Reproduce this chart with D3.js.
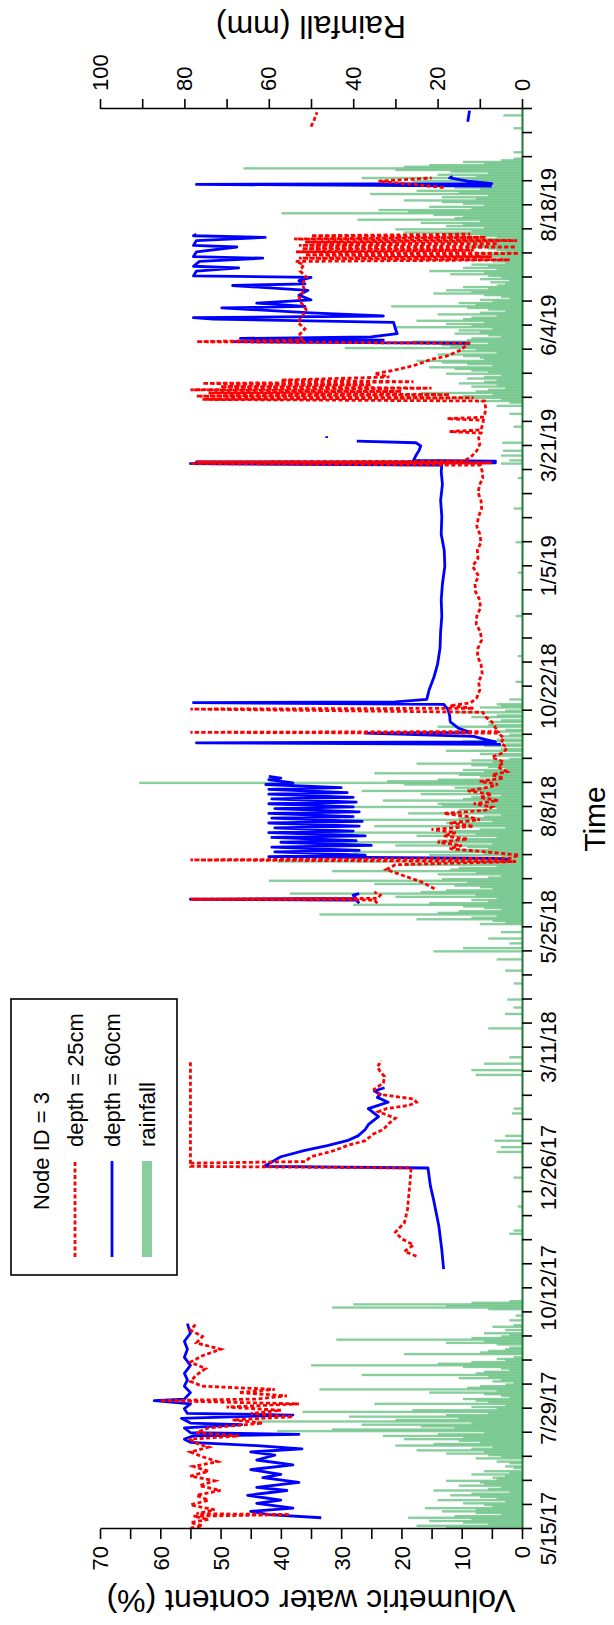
<!DOCTYPE html>
<html><head><meta charset="utf-8">
<script src="https://cdn.jsdelivr.net/npm/d3@7"></script>
<style>html,body{margin:0;padding:0;background:#fff;} svg{display:block;} text{font-family:"Liberation Sans",Arial,sans-serif;fill:#000;}</style>
</head><body><svg id="c" width="614" height="1625"></svg>
<script>
// ---------- data ----------
const dateTickLabels = ["5/15/17","7/29/17","10/12/17","12/26/17","3/11/18","5/25/18","8/8/18","10/22/18","1/5/19","3/21/19","6/4/19","8/18/19"];
const timeDomain = ["5/15/17","10/17/19"];
const vwcTicks = [0,5,10,15,20,25,30,35,40,45,50,55,60,65,70];
const vwcLabels = [0,10,20,30,40,50,60,70];
const rainTicks = [0,10,20,30,40,50,60,70,80,90,100];
const rainLabels = [0,20,40,60,80,100];
const legendLabels = ["Node ID = 3","depth = 25cm","depth = 60cm","rainfall"];

// depth = 25cm (red), null = gap
const depth25 = [
["5/15/17 12",55],["5/17/17",53],["5/19/17",55],["5/21/17",52],["5/23/17",54.5],["5/24/17",38.5],["5/24/17 12",54],["5/27/17",51],["5/30/17",55],["6/2/17",52],["6/5/17",54],["6/8/17",50],["6/11/17",53.5],["6/14/17",51],["6/17/17",55],["6/20/17",52],["6/23/17",54.5],["6/26/17",50.5],["6/29/17",53],["7/2/17",55],["7/5/17",52],["7/8/17",54.5],["7/10/17",55],["7/12/17",47],["7/14/17",54],["7/17/17",52],["7/20/17",43],["7/22/17",48],["7/24/17",38],["7/26/17",45],["7/28/17",40],["7/30/17",49],["8/1/17",37],["8/3/17",60],["8/4/17",44],["8/6/17",39],["8/8/17",47],["8/10/17",41],["8/12/17",53],["8/15/17",55],["8/19/17",54],["8/23/17",52.5],["8/27/17",55],["8/31/17",53],["9/4/17",50],["9/8/17",54],["9/12/17",53],["9/16/17",55],["9/20/17",54],
null,
["11/1/17",17.5],["11/4/17",19.5],["11/8/17",18],["11/12/17",20],["11/16/17",21],["11/22/17",19.5],["11/30/17",19],["12/8/17",18.8],["12/16/17",18.6],["12/26/17",18.4],["12/27/17",55],["3/2/18",55],
null,
["12/29/17",55],["12/30/17",36],["1/2/18",35],["1/6/18",31],["1/9/18",29],["1/12/18",26],["1/16/18",24.7],["1/19/18",23],["1/23/18",22],["1/26/18",21],["1/30/18",23.8],["2/1/18",22.5],["2/3/18",18.8],["2/5/18",17.5],["2/7/18",18],["2/10/18",23.8],["2/13/18",24.5],["2/17/18",23],["2/21/18",22.8],["2/24/18",23.5],["2/27/18",24],["3/3/18",23.3],
null,
["6/9/18",24],["6/11/18",24.5],["6/11/18 12",55],["6/12/18",24],["6/14/18",23.5],["6/16/18",24.5],
null,
["6/18/18",14.5],["6/22/18",16.5],["6/26/18",19.5],["6/30/18",22.5],["7/3/18",21],["7/5/18",1],["7/6/18",55],["7/7/18",2],["7/9/18",0.5],["7/11/18",6],["7/13/18",12],["7/15/18",10],["7/17/18",14],["7/19/18",9],["7/21/18",13],["7/23/18",11],["7/25/18",15],["7/27/18",8],["7/29/18",12],["7/31/18",7],["8/2/18",9],["8/4/18",13],["8/6/18",6],["8/8/18",5],["8/10/18",8],["8/12/18",4],["8/14/18",7],["8/16/18",5],["8/18/18",9],["8/20/18",6],["8/22/18",4],["8/24/18",7],["8/26/18",3],["8/28/18",5],["8/30/18",2.5],["9/2/18",4],["9/5/18",3],["9/8/18",5],["9/11/18",3],["9/14/18",2.5],["9/17/18",3.5],["9/20/18",3],["9/23/18",4],["9/23/18 12",55],["9/24/18",4],["9/27/18",4.5],["9/30/18",5],["10/3/18",6],["10/6/18",6.5],["10/8/18",55],["10/8/18 12",8],["10/10/18",12],["10/12/18",8.5],["10/15/18",7.5],["10/20/18",7],["10/25/18",7.2],["10/30/18",6.6],["11/5/18",6.8],["11/10/18",7.4],["11/15/18",7.3],["11/20/18",6.7],["11/25/18",6.9],["11/30/18",7.6],["12/5/18",7.5],["12/10/18",6.9],["12/15/18",7],["12/20/18",7.7],["12/25/18",7.8],["12/30/18",7.2],["1/5/19",8.2],["1/10/19",7.3],["1/15/19",7.4],["1/20/19",6.8],["1/25/19",7],["1/30/19",7.5],["2/5/19",7.2],["2/10/19",6.7],["2/15/19",6.8],["2/20/19",7.3],["2/25/19",7],["3/1/19",6.5],["3/5/19",6.6],["3/9/19",6.9],
["3/10/19",55],["3/10/19 12",5],["3/11/19",54],["3/11/19 12",9.7],["3/14/19",8.5],["3/18/19",7.5],["3/22/19",7],["3/26/19",7.2],["3/29/19",6.8],["3/30/19",12],["3/31/19",6.8],["4/4/19",6.5],["4/6/19",6.4],["4/7/19",12.4],["4/8/19",6.3],["4/13/19",6],["4/18/19",6.2],["4/19/19",53],["4/20/19",8],["4/21/19",54],["4/22/19",12],["4/23/19",52],["4/24/19",20],["4/25/19",55],["4/26/19",15],["4/27/19",50],["4/28/19",25],["4/29/19",53],["4/30/19",18],["5/1/19",40],["5/3/19",22],["5/5/19",24.5],["5/7/19",21.5],["5/10/19",18],["5/14/19",15],["5/16/19",12.5],["5/20/19",10],["5/24/19",9],["5/25/19",54],["5/26/19",36.5],["5/29/19",37],["6/2/19",36],["6/6/19",37.2],["6/10/19",36.4],["6/14/19",35.8],["6/18/19",36.6],["6/22/19",37],["6/26/19",36],["6/30/19",36.5],["7/4/19",35.7],["7/8/19",36.8],["7/12/19",36.2],["7/14/19",37.5],["7/15/19",2],["7/16/19",37],["7/17/19",5],["7/18/19",36],["7/19/19",0.5],["7/20/19",37.5],["7/21/19",8],["7/22/19",36.5],["7/23/19",1],["7/24/19",37],["7/25/19",4],["7/26/19",36],["7/27/19",0.8],["7/28/19",37.8],["7/29/19",6],["7/30/19",35],["7/31/19",8.6],
null,
["8/29/19",13],["8/31/19",18],["9/2/19",23.8],["9/4/19",15],
null,
["10/6/19",35],["10/10/19",34.5],["10/15/19",34]
];

// depth = 60cm (blue)
const depth60 = [
["5/22/17",33.3],["5/24/17",42],["5/26/17",45],["5/28/17",38],["5/31/17",44],["6/2/17",40],["6/5/17",45.5],["6/8/17",39],["6/10/17",44],["6/13/17",37],["6/16/17",43],["6/18/17",40],["6/21/17",45],["6/24/17",38],["6/27/17",44],["6/30/17",41],["7/2/17",45],["7/4/17",36.5],["7/6/17",44],["7/8/17",55],["7/10/17",56],["7/12/17",54.5],["7/13/17",37],["7/14/17",55],["7/17/17",56],["7/19/17",46.5],["7/20/17",55],["7/23/17",56.5],["7/25/17",38],["7/26/17",55.5],["7/29/17",56],["8/1/17",55],["8/3/17",61],["8/4/17",56],["8/8/17",55],["8/12/17",56],["8/16/17",55.5],["8/20/17",56],["8/25/17",55],["8/30/17",56],["9/4/17",55.5],["9/9/17",56],["9/14/17",55],["9/20/17",55.5],
null,
["10/24/17",13],["11/5/17",13.3],["11/20/17",13.8],["12/5/17",14.6],["12/15/17",15.2],["12/26/17",15.6],["12/27/17",42.8],["1/2/18",40],["1/6/18",36],["1/9/18",32.3],["1/12/18",29],["1/15/18",27.2],["1/19/18",26],["1/22/18",25.5],["1/25/18",24.5],["1/27/18",23.8],["2/1/18",25.5],["2/5/18",22.2],["2/8/18",24],["2/10/18",23.5],["2/12/18",24.5],["2/14/18",22.8],
null,
["6/9/18",27],["6/11/18",27.5],["6/11/18 12",55],["6/12/18",27.5],["6/14/18",28],["6/15/18",27],
null,
["7/6/18",2],["7/7/18",4],["7/8/18",42],["7/9/18",26],["7/11/18",41],["7/12/18",27],["7/14/18",41.5],["7/15/18",25],["7/17/18",40],["7/18/18",27.5],["7/20/18",41.5],["7/21/18",26],["7/23/18",42],["7/24/18",28],["7/26/18",41],["7/27/18",27],["7/29/18",42],["7/30/18",26.5],["8/1/18",41.5],["8/2/18",28],["8/4/18",42],["8/5/18",27],["8/7/18",41],["8/8/18",28],["8/10/18",42],["8/11/18",27.5],["8/13/18",41.5],["8/14/18",28],["8/16/18",42],["8/17/18",29],["8/19/18",42],["8/20/18",30],["8/22/18",42.5],["8/23/18",38],["8/25/18",42],["8/26/18",40],["8/27/18",42],
null,
["9/16/18",3.5],["9/17/18",54],["9/17/18 12",4.4],["9/19/18",6],["9/21/18",8],["9/23/18",26],["9/23/18 12",8.6],["9/26/18",10.5],["9/30/18",11.9],["10/4/18",12],["10/8/18",12.3],["10/11/18",13],["10/12/18",54.5],["10/12/18 12",21],["10/14/18",15.8],["10/20/18",15.4],["10/28/18",14.6],["11/5/18",14],["11/15/18",13.6],["11/25/18",13.5],["12/5/18",13.3],["12/15/18",13.4],["12/25/18",13.2],["1/5/19",12.8],["1/15/19",12.9],["1/25/19",13.4],["2/5/19",13.3],["2/15/19",13.5],["2/25/19",13.2],["3/5/19",13.4],["3/9/19",13.3],
["3/10/19",55],["3/10/19 12",4.4],["3/11/19",54],["3/11/19 12",4.4],["3/12/19",18],["3/15/19",17.6],["3/18/19",17.1],["3/21/19",16.8],["3/23/19",17.6],["3/24/19",27.4],
null,
["3/26/19",32.4],["3/27/19",32.4],
null,
["5/24/19",8.6],["5/25/19",48],["5/26/19",23],["5/27/19",46.7],["5/28/19",25],["5/30/19",20.7],["6/2/19",21],["6/6/19",21.3],["6/8/19",51.2],["6/9/19",54.5],["6/10/19",23],["6/12/19",35],["6/15/19",49.8],["6/16/19",36],["6/18/19",44],["6/20/19",35],["6/23/19",37],["6/26/19",35.5],["6/29/19",48],["6/30/19",36],["7/2/19",37],["7/4/19",35],["7/5/19",54.5],["7/8/19",54],["7/10/19",47],["7/11/19",54.5],["7/14/19",53.5],["7/16/19",43],["7/17/19",54.5],["7/20/19",54],["7/23/19",47.3],["7/24/19",54.5],["7/27/19",54],["7/29/19",42.6],["7/30/19",54.5],["7/31/19",54],
null,
["8/30/19",5],["8/31/19",54],["8/31/19 12",5],["9/2/19",9],["9/4/19",12],["9/5/19",11.5],
null,
["10/9/19",9],["10/16/19",8.7]
];

// daily rainfall (mm)
const rainfall = [
["5/15/17",10],["5/16/17",18],["5/17/17",25],["5/18/17",8],["5/19/17",14],["5/20/17",22],["5/21/17",12],["5/22/17",27],["5/23/17",16],["5/24/17",5],["5/25/17",11],["5/26/17",19],["5/27/17",11],["5/28/17",23],["5/29/17",7],["5/30/17",9],["5/31/17",14],["6/1/17",4],["6/2/17",20],["6/3/17",6],["6/4/17",10],["6/5/17",17],["6/6/17",12],["6/7/17",3],["6/8/17",21],["6/9/17",8],["6/10/17",5],["6/11/17",15],["6/12/17",9],["6/13/17",10],["6/14/17",18],["6/15/17",6],["6/16/17",7],["6/17/17",4],["6/18/17",12],["6/19/17",3],["6/20/17",9],["6/22/17",2],["6/23/17",4],["6/25/17",3],["6/26/17",6],["6/28/17",11],["6/29/17",5],["6/30/17",8],
["7/1/17",18],["7/2/17",9],["7/3/17",25],["7/4/17",12],["7/5/17",7],["7/6/17",30],["7/7/17",21],["7/8/17",10],["7/9/17",15],["7/10/17",28],["7/11/17",14],["7/12/17",33],["7/13/17",20],["7/14/17",9],["7/15/17",58],["7/16/17",45],["7/17/17",16],["7/18/17",24],["7/19/17",38],["7/20/17",12],["7/21/17",63],["7/22/17",30],["7/23/17",15],["7/24/17",41],["7/25/17",18],["7/26/17",8],["7/27/17",52],["7/28/17",26],["7/29/17",6],["7/30/17",12],["7/31/17",4],["8/1/17",35],["8/2/17",8],["8/3/17",11],["8/4/17",14],["8/5/17",3],["8/6/17",5],["8/7/17",9],["8/8/17",22],["8/9/17",6],["8/10/17",48],["8/11/17",13],["8/12/17",10],["8/13/17",4],["8/14/17",2],["8/15/17",7],["8/16/17",5],["8/17/17",15],["8/18/17",8],["8/19/17",38],["8/20/17",11],["8/21/17",9],["8/22/17",3],["8/23/17",5],["8/24/17",14],["8/25/17",50],["8/26/17",20],["8/27/17",12],["8/28/17",4],["8/29/17",6],["8/30/17",2],["9/1/17",28],["9/2/17",10],["9/3/17",8],["9/4/17",4],["9/5/17",3],["9/7/17",6],["9/8/17",18],["9/9/17",9],["9/10/17",44],["9/11/17",12],["9/12/17",5],["9/13/17",3],["9/14/17",9],["9/16/17",4],["9/18/17",7],["9/19/17",2],["9/22/17",3],["9/25/17",1.5],["9/29/17",8],["9/30/17",45],["10/1/17",18],["10/2/17",40],["10/3/17",12],["10/4/17",3],
["11/15/17",3],["11/17/17",2],["12/2/17",1],["12/20/17",2],["1/5/18",6],["1/8/18",5],["1/12/18",6.5],["1/15/18",4],["1/29/18",2.4],["2/1/18",2],["2/22/18",11],["2/25/18",12],["3/1/18",9],["3/5/18",3],["3/23/18",8],["4/1/18",4],["4/5/18",2],["4/10/18",3.5],["4/20/18",2],["4/28/18",4],["5/5/18",6],["5/10/18",21],["5/12/18",14],["5/15/18",3],["5/18/18",8],["5/22/18",5],
["5/27/18",10],["5/28/18",4],["5/29/18",7],["5/30/18",25],["5/31/18",12],["6/1/18",6],["6/2/18",48],["6/3/18",20],["6/4/18",15],["6/5/18",5],["6/6/18",9],["6/7/18",14],["6/8/18",40],["6/9/18",22],["6/10/18",8],["6/11/18",12],["6/12/18",6],["6/13/18",30],["6/14/18",11],["6/15/18",55],["6/16/18",24],["6/17/18",18],["6/18/18",7],["6/19/18",10],["6/20/18",16],["6/21/18",35],["6/22/18",13],["6/23/18",60],["6/24/18",19],["6/25/18",8],["6/26/18",5],["6/27/18",20],["6/28/18",11],["6/29/18",45],["6/30/18",17],["7/1/18",15],["7/2/18",6],["7/3/18",28],["7/4/18",10],["7/5/18",58],["7/6/18",21],["7/7/18",12],["7/8/18",5],["7/9/18",22],["7/10/18",9],["7/11/18",40],["7/12/18",16],["7/13/18",8],["7/14/18",13],["7/15/18",30],["7/16/18",7],["7/17/18",52],["7/18/18",20],["7/19/18",14],["7/20/18",6],["7/21/18",25],["7/22/18",11],["7/23/18",46],["7/24/18",17],["7/25/18",10],["7/26/18",4],["7/27/18",35],["7/28/18",13],["7/29/18",18],["7/30/18",7],["7/31/18",42],["8/1/18",15],["8/2/18",9],["8/3/18",5],["8/4/18",27],["8/5/18",11],["8/6/18",15],["8/7/18",6],["8/8/18",48],["8/9/18",19],["8/10/18",20],["8/11/18",8],["8/12/18",33],["8/13/18",14],["8/14/18",12],["8/15/18",5],["8/16/18",24],["8/17/18",9],["8/18/18",38],["8/19/18",13],["8/20/18",16],["8/21/18",7],["8/22/18",28],["8/23/18",90.7],["8/24/18",32],["8/25/18",20],["8/26/18",6],["8/27/18",10],["8/28/18",15],["8/29/18",35],["8/30/18",9],["8/31/18",14],["9/1/18",4],["9/2/18",8],["9/3/18",12],["9/4/18",25],["9/5/18",7],["9/6/18",12],["9/7/18",3],["9/9/18",6],["9/10/18",10],["9/12/18",18],["9/13/18",5],["9/15/18",9],["9/16/18",4],["9/18/18",14],["9/19/18",6],["9/21/18",5],["9/22/18",3],["9/24/18",6],["9/25/18",4],["9/27/18",20],["9/28/18",8],["9/30/18",8],["10/1/18",5],["10/3/18",12],["10/4/18",6],["10/6/18",15],["10/7/18",4],["10/9/18",10],["10/10/18",5],["10/11/18",6],["10/14/18",3],
["10/25/18",1.5],["11/10/18",1],["12/5/18",1.5],["1/1/19",1],["1/20/19",1.5],["2/10/19",2],["3/1/19",1],["3/10/19",5],["3/12/19",3],["3/15/19",5],["3/18/19",4.5],["3/23/19",4.7],["4/2/19",2],["4/10/19",3],
["4/15/19",6],["4/17/19",3],["4/18/19",10],["4/19/19",5],["4/20/19",30],["4/21/19",14],["4/22/19",7],["4/23/19",24],["4/24/19",11],["4/25/19",8],["4/26/19",4],["4/27/19",12],["4/28/19",6],["4/29/19",15],["4/30/19",9],["5/1/19",6],["5/2/19",13],["5/3/19",9],["5/4/19",5],["5/5/19",18],["5/6/19",8],["5/7/19",12],["5/8/19",16],["5/9/19",22],["5/10/19",7],["5/11/19",13],["5/12/19",19],["5/13/19",25],["5/14/19",9],["5/15/19",10],["5/16/19",14],["5/17/19",20],["5/18/19",6],["5/19/19",15],["5/20/19",11],["5/21/19",42],["5/22/19",17],["5/23/19",19],["5/24/19",8],["5/25/19",26],["5/26/19",13],["5/27/19",12],["5/28/19",5],["5/29/19",8],["5/30/19",16],["5/31/19",10],["6/1/19",15],["6/2/19",7],["6/3/19",30],["6/4/19",12],["6/5/19",18],["6/6/19",9],["6/7/19",25],["6/8/19",14],["6/9/19",12],["6/10/19",6],["6/11/19",20],["6/12/19",10],["6/13/19",4],["6/14/19",8],["6/15/19",13],["6/16/19",31],["6/17/19",11],["6/18/19",15],["6/19/19",7],["6/20/19",10],["6/21/19",3],["6/22/19",5],["6/23/19",9],["6/24/19",21],["6/25/19",12],["6/26/19",18],["6/27/19",8],["6/28/19",14],["6/29/19",6],["6/30/19",4],["7/1/19",7.5],["7/2/19",3],["7/3/19",10],["7/4/19",5],["7/5/19",8],["7/6/19",17],["7/7/19",9],["7/8/19",22],["7/9/19",6],["7/10/19",14],["7/11/19",8],["7/12/19",12],["7/13/19",4],["7/14/19",7],["7/15/19",9],["7/16/19",5],["7/17/19",16],["7/18/19",8],["7/19/19",11],["7/20/19",4],["7/21/19",6],["7/22/19",8],["7/23/19",13],["7/24/19",12],["7/25/19",7],["7/26/19",20],["7/27/19",9],["7/28/19",15],["7/29/19",6],["7/30/19",10],["7/31/19",18],["8/1/19",28],["8/2/19",12],["8/3/19",30],["8/4/19",9],["8/5/19",18],["8/6/19",14],["8/7/19",24],["8/8/19",10],["8/9/19",39],["8/10/19",16],["8/11/19",14],["8/12/19",21],["8/13/19",57],["8/14/19",27],["8/15/19",34],["8/16/19",12],["8/17/19",22],["8/18/19",9],["8/19/19",14],["8/20/19",19],["8/21/19",28],["8/22/19",11],["8/23/19",19],["8/24/19",8],["8/25/19",36],["8/26/19",15],["8/27/19",25],["8/28/19",10],["8/29/19",16],["8/30/19",7],["8/31/19",12],["9/1/19",9],["9/2/19",26],["9/3/19",14],["9/4/19",38],["9/5/19",11],["9/6/19",20],["9/7/19",8],["9/8/19",17],["9/9/19",30],["9/10/19",66],["9/11/19",28],["9/12/19",22],["9/13/19",9],["9/14/19",14],["9/15/19",5],["9/16/19",2],["9/20/19",2],["10/5/19",2],["10/13/19",4.4]
];

// ---------- drawing (chart built in landscape frame, rotated -90deg) ----------
const svg = d3.select("#c");
const g = svg.append("g").attr("transform", "translate(0,1625) rotate(-90)");
const P = {l: 96, r: 1516, t: 100, b: 522};
const f1 = d3.timeParse("%m/%d/%y"), f2 = d3.timeParse("%m/%d/%y %H");
const parse = s => f2(s) || f1(s);

const x = d3.scaleTime().domain(timeDomain.map(parse)).range([P.l, P.r]);
const yV = d3.scaleLinear().domain([0, 70]).range([P.b, P.t]);
const yR = d3.scaleLinear().domain([0, 100]).range([P.b, P.t]);

g.append("clipPath").attr("id", "clip").append("rect")
  .attr("x", P.l).attr("y", P.t - 2).attr("width", P.r - P.l).attr("height", P.b - P.t + 2);
const plot = g.append("g").attr("clip-path", "url(#clip)");

// rainfall bars
plot.append("g").selectAll("rect").data(rainfall).join("rect")
  .attr("x", d => x(parse(d[0])) - 1.2)
  .attr("width", 2.4)
  .attr("y", d => yR(d[1]))
  .attr("height", d => yR(0) - yR(d[1]))
  .attr("fill", "#6cc386").attr("fill-opacity", 0.8);

const line = d3.line().defined(d => d !== null)
  .x(d => x(parse(d[0]))).y(d => yV(d[1]));

plot.append("path").datum(depth60).attr("d", line)
  .attr("fill", "none").attr("stroke", "#0000ff").attr("stroke-width", 2.8)
  .attr("stroke-linejoin", "round");
plot.append("path").datum(depth25).attr("d", line)
  .attr("fill", "none").attr("stroke", "#ff0000").attr("stroke-width", 2.8)
  .attr("stroke-dasharray", "4,2.5");

// axes
const t0 = parse(timeDomain[0]), t1 = parse(timeDomain[1]);
const timeTicks = [];
for (let k = 0; ; k++) { const d = d3.timeDay.offset(t0, 15 * k); if (d > t1) break; timeTicks.push(d); }
const labelMap = new Map(dateTickLabels.map(s => [+parse(s), s]));

function styleAxis(sel) {
  sel.selectAll("text").attr("font-size", 22).attr("font-family", '"Liberation Sans",Arial,sans-serif').attr("fill", "#000");
  sel.selectAll(".tick line").attr("stroke", "#000").attr("stroke-width", 1.6);
  sel.select(".domain").attr("stroke-width", 1.6);
}

const gx = g.append("g").attr("transform", `translate(0,${P.b})`)
  .call(d3.axisBottom(x).tickValues(timeTicks).tickFormat(d => labelMap.get(+d) || "").tickSize(10).tickPadding(8).tickSizeOuter(0));
styleAxis(gx);
gx.select(".domain").attr("stroke", "#1f7a33").attr("stroke-width", 2);

const gy = g.append("g").attr("transform", `translate(${P.l},0)`)
  .call(d3.axisLeft(yV).tickValues(vwcTicks).tickFormat(d => vwcLabels.includes(d) ? d : "").tickSize(10).tickPadding(7).tickSizeOuter(0));
styleAxis(gy);
gy.selectAll("text").attr("dy", "0.36em");

const gr = g.append("g").attr("transform", `translate(${P.r},0)`)
  .call(d3.axisRight(yR).tickValues(rainTicks).tickFormat(d => rainLabels.includes(d) ? d : "").tickSize(10).tickPadding(8).tickSizeOuter(0));
styleAxis(gr);

// titles
g.append("text").attr("x", (P.l + P.r) / 2).attr("y", 594).attr("text-anchor", "middle")
  .attr("dominant-baseline", "central").attr("font-size", 30).text("Time");
g.append("text").attr("transform", `translate(24,${(P.t + P.b) / 2}) rotate(-90)`).attr("text-anchor", "middle")
  .attr("dominant-baseline", "central").attr("font-size", 32).text("Volumetric water content (%)");
g.append("text").attr("transform", `translate(1598,${(P.t + P.b) / 2}) rotate(-90)`).attr("text-anchor", "middle")
  .attr("dominant-baseline", "central").attr("font-size", 32).text("Rainfall (mm)");

// legend
const L = g.append("g").attr("transform", "translate(350,11)");
L.append("rect").attr("width", 276).attr("height", 166).attr("fill", "#fff").attr("stroke", "#000").attr("stroke-width", 1.6);
L.append("text").attr("x", 65).attr("y", 30).attr("dominant-baseline", "central").attr("font-size", 22).text(legendLabels[0]);
L.append("line").attr("x1", 18).attr("x2", 114).attr("y1", 64).attr("y2", 64).attr("stroke", "#ff0000").attr("stroke-width", 2.8).attr("stroke-dasharray", "4,2.5");
L.append("text").attr("x", 128).attr("y", 64).attr("dominant-baseline", "central").attr("font-size", 22).text(legendLabels[1]);
L.append("line").attr("x1", 18).attr("x2", 114).attr("y1", 101).attr("y2", 101).attr("stroke", "#0000ff").attr("stroke-width", 2.8);
L.append("text").attr("x", 128).attr("y", 101).attr("dominant-baseline", "central").attr("font-size", 22).text(legendLabels[2]);
L.append("rect").attr("x", 18).attr("width", 96).attr("y", 131).attr("height", 10).attr("fill", "#6cc386").attr("fill-opacity", 0.8);
L.append("text").attr("x", 128).attr("y", 136).attr("dominant-baseline", "central").attr("font-size", 22).text(legendLabels[3]);
</script>
</body></html>
